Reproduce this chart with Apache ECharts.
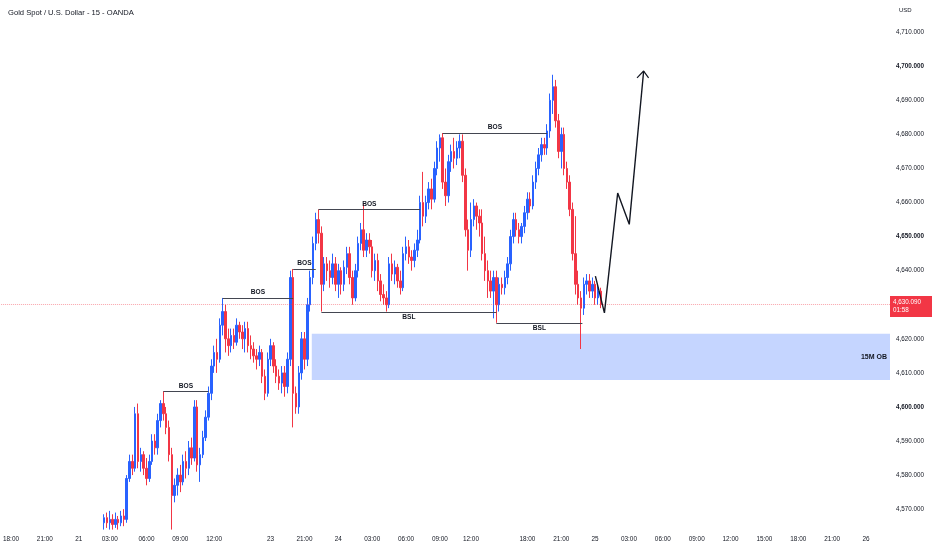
<!DOCTYPE html>
<html>
<head>
<meta charset="utf-8">
<script src="https://cdn.jsdelivr.net/npm/echarts@6/dist/echarts.min.js"></script>
<style>html,body{margin:0;padding:0;background:#fff}#c{width:932px;height:550px}</style>
</head>
<body>
<div id="c"></div>
<script>
// ---------- data ----------
const chartTitle = 'Gold Spot / U.S. Dollar - 15 - OANDA';
const currency = 'USD';
const slotCount = 315;          // 15-minute slots across the plot (incl. future)
const candleStart = 36;         // slot index of first candle in view
// [open, close, low, high]
const candles = [
[4566,4567.5,4564,4568.5],[4567.5,4566,4564.5,4569],[4566,4567,4564,4569.5],[4567,4565.5,4564,4568.5],
[4565.5,4567,4564.5,4569],[4567,4566,4564,4568],[4566,4568,4565,4569.5],[4568,4567,4565,4570],
[4567,4579,4566,4580],[4579,4584,4578,4586],[4584,4582,4580,4586],[4582,4598,4581,4600],
[4598,4584,4582,4601],[4584,4586,4581,4588],[4586,4582,4580,4587],[4582,4579,4577,4585],
[4579,4584,4578,4586],[4584,4590,4583,4592],[4590,4588,4586,4592],[4588,4596,4586,4598],
[4596,4601,4594,4602],[4601,4598,4596,4604.6],[4598,4594,4592,4600],[4594,4586,4584,4596],
[4586,4574,4564,4588],[4574,4577,4572,4579],[4577,4580,4574,4582],[4580,4578,4575,4583],
[4578,4584,4577,4586],[4584,4582,4579,4587],[4582,4588,4580,4590],[4588,4585,4583,4591],
[4585,4600,4584,4602],[4600,4583,4581,4602],[4583,4586,4578,4588],[4586,4591,4585,4593],
[4591,4597,4590,4599],[4597,4604,4596,4606],[4604,4612,4602,4614],[4612,4616,4610,4618],
[4616,4614,4610,4620],[4614,4624,4613,4626],[4624,4628,4621,4632],[4628,4620,4616,4630],
[4620,4618,4615,4623],[4618,4621,4616,4623],[4621,4619,4617,4623],[4619,4624,4618,4626],
[4624,4622,4620,4625],[4622,4620,4617,4624],[4620,4623,4616,4625],[4623,4618,4616,4625],
[4618,4617,4614,4621],[4617,4615,4613,4619],[4615,4614,4611,4617],[4614,4616,4612,4618],
[4616,4609,4607,4617],[4609,4604,4602,4611],[4604,4614,4603,4616],[4614,4618,4612,4620],
[4618,4612,4610,4619],[4612,4609,4607,4614],[4609,4607,4605,4611],[4607,4610,4604,4612],
[4610,4606,4603,4612],[4606,4614,4604,4616],[4614,4638,4612,4640],[4638,4604,4594,4640.5],
[4604,4600,4598,4606],[4600,4610,4598,4612],[4610,4620,4608,4622],[4620,4614,4611,4622],
[4614,4630,4612,4632],[4630,4638,4628,4640],[4638,4648,4636,4650],[4648,4655,4646,4657],
[4655,4651,4648,4658],[4651,4636,4628,4653],[4636,4642,4634,4644],[4642,4640,4637,4644],
[4640,4638,4635,4643],[4638,4642,4636,4645],[4642,4636,4634,4644],[4636,4640,4632,4642],
[4640,4636,4633,4641],[4636,4641,4634,4643],[4641,4645,4639,4647],[4645,4638,4636,4647],
[4638,4632,4630,4640],[4632,4640,4631,4642],[4640,4648,4638,4650],[4648,4652,4646,4654],
[4652,4646,4644,4659.5],[4646,4649,4644,4651],[4649,4647,4645,4651],[4647,4640,4638,4649],
[4640,4643,4637,4645],[4643,4637,4634,4645],[4637,4633,4631,4639],[4633,4632,4630,4636],
[4632,4630,4628,4634],[4630,4642,4629,4644],[4642,4639,4637,4645],[4639,4641,4636,4643],
[4641,4637,4635,4642],[4637,4635,4633,4640],[4635,4645,4634,4647],[4645,4647,4643,4650],
[4647,4644,4642,4649],[4644,4643,4640,4646],[4643,4646,4641,4648],[4646,4649,4644,4652],
[4649,4660,4648,4662],[4660,4656,4653,4669],[4656,4660,4654,4662],[4660,4664,4658,4666],
[4664,4661,4658,4667],[4661,4670,4660,4672],[4670,4676,4668,4678],[4676,4679,4672,4680],
[4679,4666,4664,4680.4],[4666,4662,4659,4670],[4662,4672,4660,4674],[4672,4675,4669,4677],
[4675,4673,4670,4679],[4673,4676,4671,4678],[4676,4678,4673,4680],[4678,4668,4666,4680],
[4668,4652,4650,4670],[4652,4646,4640,4655],[4646,4655,4644,4660],[4655,4659,4653,4661],
[4659,4656,4652,4660],[4656,4654,4650,4658],[4654,4645,4643,4658],[4645,4640,4637,4650],
[4640,4637,4632,4643],[4637,4634,4632,4640],[4634,4638,4626,4640],[4638,4630,4624.7,4640],
[4630,4636,4628,4638],[4636,4635,4633,4638],[4635,4638,4633,4640],[4638,4642,4636,4644],
[4642,4650,4640,4652],[4650,4655,4648,4657],[4655,4652,4650,4657],[4652,4650,4648,4654],
[4650,4653,4648,4654],[4653,4657,4651,4659],[4657,4661,4655,4663],[4661,4659,4657,4663],
[4659,4666,4658,4668],[4666,4670,4664,4672],[4670,4674,4668,4676],[4674,4677,4672,4679],
[4677,4676,4674,4679],[4676,4681,4674,4683],[4681,4690,4679,4692],[4690,4694,4686,4697.5],
[4694,4684,4682,4696],[4684,4675,4673,4686],[4675,4680,4670,4682],[4680,4670,4668,4682],
[4670,4666,4664,4672],[4666,4658,4656,4668],[4658,4645,4643,4660],[4645,4636,4633,4656],
[4636,4632,4630,4640],[4632,4629,4617,4634],[4629,4636,4627,4638],[4636,4637,4633,4639],
[4637,4634,4632,4639],[4634,4636,4632,4638],[4636,4632,4630,4637],[4632,4634,4630,4636],
[4634,4630.09,4629,4635]
];
const timeTickSlots = [3,15,27,38,51,63,75,95,107,119,131,143,155,166,186,198,210,222,234,246,258,270,282,294,306];
const timeTickLabels = ['18:00','21:00','21','03:00','06:00','09:00','12:00','23','21:00','24','03:00','06:00','09:00','12:00','18:00','21:00','25','03:00','06:00','09:00','12:00','15:00','18:00','21:00','26'];
const priceTicks = [4570,4580,4590,4600,4610,4620,4630,4640,4650,4660,4670,4680,4690,4700,4710];
const boldPriceTicks = [4600,4650,4700];
const priceMin = 4565.35, priceMax = 4719.45;
const lastPrice = 4630.09;
const countdown = '01:58';
// [startSlot, endSlot, price]
const bosLines = [[57,73,4604.6],[78,103,4632],[103,111,4640.5],[112,148,4658],[156,193,4680.4]];
const bslLines = [[113,175,4627.9],[175,205.5,4624.7]];
const obZone = {x0:109.6, x1:314.5, low:4607.9, high:4621.5, label:'15M OB'};
const arrowPath = [[210.1,4638.4],[213.3,4627.6],[218,4662.8],[222.1,4653.6],[227.2,4698.6]];
const arrowHead = [[224.85,4696.6],[227.2,4698.6],[228.95,4696.6]];

// ---------- chart ----------
const FONT = 'Liberation Sans, Arial, sans-serif';
const TXT = '#131722';
const UP = '#2962ff', DOWN = '#f23645';
function fmt3(v){
  const s = v.toFixed(3).split('.');
  return s[0].replace(/\B(?=(\d{3})+(?!\d))/g, ',') + '.' + s[1];
}
const tickMap = {};
timeTickSlots.forEach((s,i)=>{ tickMap[s] = timeTickLabels[i]; });

const candleData = candles.map((c,k)=>[candleStart + k, c[0], c[1], c[2], c[3]]);

const lineStyleAnn = {color:'#434651', width:1, type:'solid'};
const markLineData = [];
markLineData.push({
  yAxis: lastPrice,
  lineStyle:{color:'rgba(242,54,69,0.45)', width:1, type:'dotted'},
  label:{show:true, position:'end', distance:0, offset:[0,2], formatter: fmt3(lastPrice) + '\n' + countdown,
    backgroundColor: DOWN, color:'#fff', fontSize:6.3, lineHeight:8.5, padding:[2,3,2,3],
    fontFamily: FONT, width:36, align:'left'}
});
bosLines.forEach(([a,b,p])=>{
  markLineData.push([
    {coord:[a,p], lineStyle:lineStyleAnn,
     label:{show:true, position:'insideMiddleTop', formatter:'BOS', distance:2, color:TXT,
       fontSize:6.6, fontWeight:'bold', fontFamily:FONT}},
    {coord:[b,p]}
  ]);
});
bslLines.forEach(([a,b,p])=>{
  markLineData.push([
    {coord:[a,p], lineStyle:lineStyleAnn,
     label:{show:true, position:'insideMiddleBottom', formatter:'BSL', distance:2, color:TXT,
       fontSize:6.6, fontWeight:'bold', fontFamily:FONT}},
    {coord:[b,p]}
  ]);
});

const chart = echarts.init(document.getElementById('c'), null, {renderer:'canvas'});
chart.setOption({
  animation:false,
  backgroundColor:'#ffffff',
  title:{text:chartTitle, left:3, top:4,
    textStyle:{fontSize:7.6, fontWeight:'normal', color:TXT, fontFamily:FONT}},
  graphic:[{type:'text', left:899, top:7,
    style:{text:currency, fontSize:6, fill:TXT, fontFamily:FONT}}],
  grid:{left:0, right:42, top:0, bottom:25, containLabel:false},
  xAxis:{type:'value', min:-0.5, max:slotCount-0.5,
    axisLine:{show:false}, axisTick:{show:false}, splitLine:{show:false},
    axisLabel:{customValues:timeTickSlots, margin:11, fontSize:6.4, color:TXT, fontFamily:FONT,
      hideOverlap:false, showMinLabel:true, showMaxLabel:true,
      formatter:(v)=> tickMap[Math.round(v)] || ''}},
  yAxis:{type:'value', position:'right', min:priceMin, max:priceMax, scale:true,
    axisLine:{show:false}, axisTick:{show:false}, splitLine:{show:false},
    axisLabel:{customValues:priceTicks, margin:6, fontSize:6.3, color:TXT, fontFamily:FONT,
      showMinLabel:true, showMaxLabel:true,
      formatter:(v)=> boldPriceTicks.indexOf(Math.round(v))>=0 ? '{b|'+fmt3(v)+'}' : fmt3(v),
      rich:{b:{fontWeight:'bold', fontSize:6.3, color:TXT, fontFamily:FONT}}}},
  series:[
    {type:'candlestick', data:candleData, encode:{x:0, y:[1,2,3,4]},
      barWidth:2, clip:true,
      itemStyle:{color:UP, color0:DOWN, borderColor:UP, borderColor0:DOWN, borderWidth:1},
      markArea:{silent:true,
        itemStyle:{color:'rgba(41,98,255,0.27)'},
        label:{show:true, position:'insideRight', distance:3, color:TXT, fontSize:7,
          fontWeight:'bold', fontFamily:FONT},
        data:[[{coord:[obZone.x0, obZone.high], name:obZone.label},{coord:[obZone.x1, obZone.low]}]]},
      markLine:{silent:true, symbol:['none','none'], animation:false, data:markLineData}
    },
    {type:'line', data:arrowPath, symbol:'none', z:5,
      lineStyle:{color:TXT, width:1.4}},
    {type:'line', data:arrowHead, symbol:'none', z:5,
      lineStyle:{color:TXT, width:1.2}}
  ]
});
</script>
</body>
</html>
